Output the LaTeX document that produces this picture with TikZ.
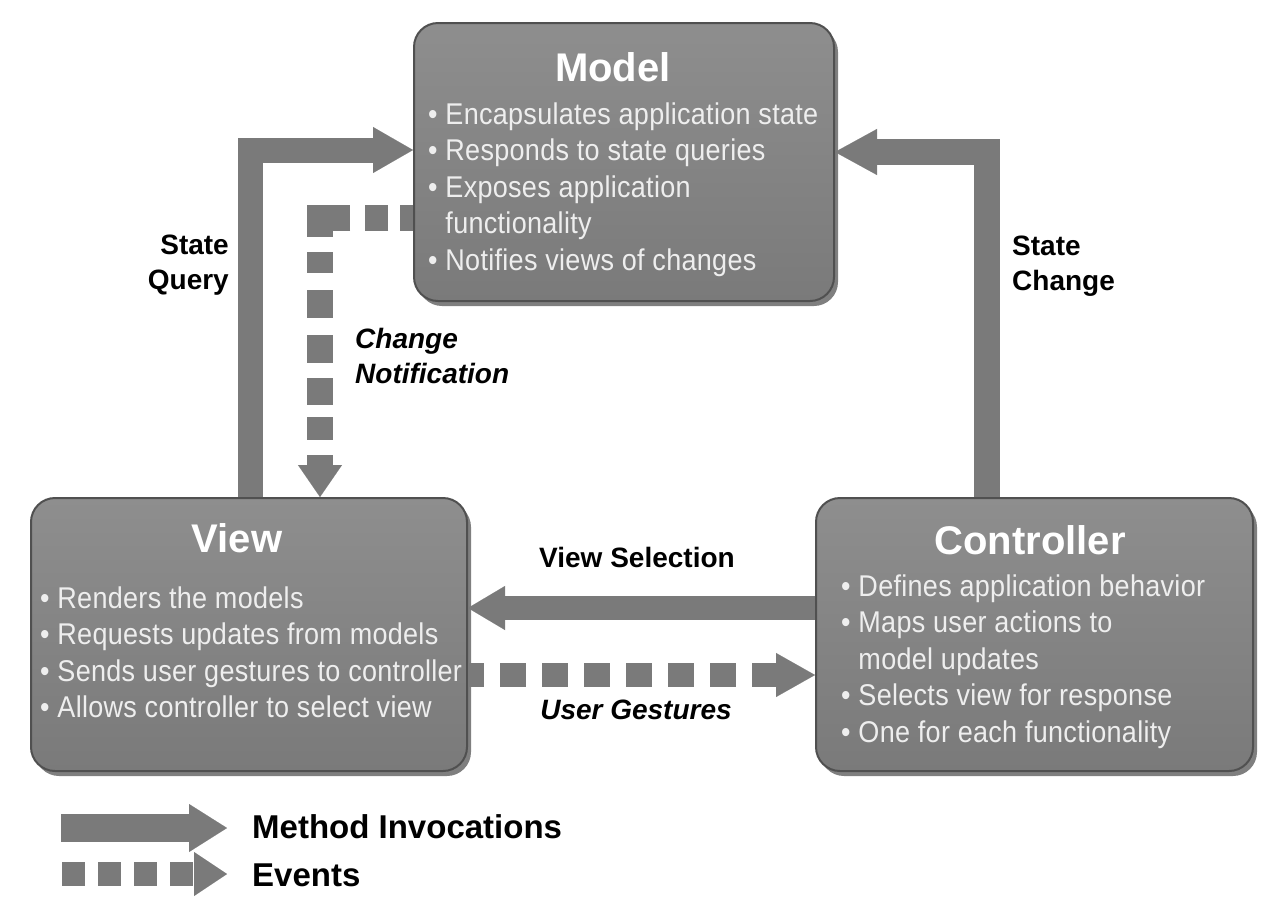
\documentclass[tikz,border=0pt]{standalone}
\usepackage{fontspec}
\setmainfont{Liberation Sans}
\newfontfamily\narrowfont[FakeStretch=0.9,LetterSpace=1]{Liberation Sans}
\usetikzlibrary{arrows.meta,shadows,calc}
\definecolor{boxtop}{HTML}{8E8E8E}
\definecolor{boxbot}{HTML}{7A7A7A}
\definecolor{boxedge}{HTML}{505050}
\definecolor{arrowgray}{HTML}{7A7A7A}
\definecolor{boxtext}{HTML}{EEEEEE}
\begin{document}
\begin{tikzpicture}[x=1pt,y=-1pt,
  box/.style={draw=boxedge,line width=2pt,rounded corners=24pt,top color=boxtop,bottom color=boxbot,
    drop shadow={shadow xshift=4pt,shadow yshift=-5pt,opacity=0.5,fill=black},
    inner sep=0pt,anchor=north west},
  boxtitle/.style={font=\bfseries\fontsize{40}{48}\selectfont,text=white,inner sep=0pt},
  boxlist/.style={font=\narrowfont\fontsize{30}{36.5}\selectfont,text=boxtext,align=left,anchor=north west,inner sep=0pt},
  lbl/.style={font=\bfseries\fontsize{28}{35}\selectfont,text=black,inner sep=0pt},
  ilbl/.style={font=\bfseries\itshape\fontsize{28}{35}\selectfont,text=black,inner sep=0pt},
  legendlbl/.style={font=\bfseries\fontsize{33}{39}\selectfont,text=black,inner sep=0pt,anchor=west},
  method/.style={draw=arrowgray,line width=25pt,line join=miter,line cap=butt},
  event/.style={method,line width=24pt}
]
\useasboundingbox[fill=white] (0,0) rectangle (1280,903);

% boxes
\node[box,minimum width=420pt,minimum height=278pt] (model) at (413,22) {};
\node[box,minimum width=436pt,minimum height=273pt] (view) at (30,497) {};
\node[box,minimum width=437pt,minimum height=273pt] (controller) at (815,497) {};

\node[boxtitle] (modeltitle) at (613,67) {Model};
\node[boxlist] (modellist) at (428,102) {\rule{0pt}{22pt}• Encapsulates application state\\• Responds to state queries\\• Exposes application\\\phantom{• }functionality\\• Notifies views of changes};

\node[boxtitle] (viewtitle) at (237,538) {View};
\node[boxlist] (viewlist) at (40,586) {\rule{0pt}{22pt}• Renders the models\\• Requests updates from models\\• Sends user gestures to controller\\• Allows controller to select view};

\node[boxtitle] (ctrltitle) at (1030,540) {Controller};
\node[boxlist] (ctrllist) at (841,574) {\rule{0pt}{22pt}• Defines application behavior\\• Maps user actions to\\\phantom{• }model updates\\• Selects view for response\\• One for each functionality};

% connectors
\draw[method,-{Triangle[length=40pt,width=46pt,line width=0.1pt]}]
  ($(view.north west)+(220,0)$) |- ($(model.north west)+(0,128)$);
\draw[method,line width=26pt,-{Triangle[length=42pt,width=46pt,line width=0.1pt]}]
  ($(controller.north west)+(172,0)$) |- ($(model.north east)+(0,130)$);
\draw[event,line width=26pt,dash pattern=on 13pt off 12pt on 23pt off 15pt on 49pt off 15pt on 21pt off 17pt on 28pt off 17pt on 28pt off 15pt on 27pt off 12pt on 23pt off 15pt on 30pt off 10pt,
  -{Triangle[length=32pt,width=44pt,line width=0.1pt]}]
  ($(model.north west)+(0,196)$) -| ($(view.north west)+(290,0)$);
\draw[method,line width=24pt,-{Triangle[length=37pt,width=44pt,line width=0.1pt]}]
  ($(controller.north west)+(0,111)$) -- ($(view.north east)+(0,111)$);
\draw[event,dash pattern=on 26pt off 16pt,dash phase=10pt,-{Triangle[length=39pt,width=44pt,line width=0.1pt]}]
  ($(view.north east)+(0,178)$) -- ($(controller.north west)+(0,178)$);

% labels
\node[lbl,align=right,anchor=east] (sq) at (229,265) {State\\Query};
\node[lbl,align=left,anchor=west] (sc) at (1012,266) {State\\Change};
\node[ilbl,align=left,anchor=west] (cn) at (355,356) {Change\\Notification};
\node[lbl] (vs) at (637,557) {View Selection};
\node[ilbl] (ug) at (636,710) {User Gestures};

% legend
\coordinate (mA) at (61,828);
\coordinate (mB) at (227,828);
\draw[method,line width=28pt,-{Triangle[length=38pt,width=48pt,line width=0.1pt]}] (mA) -- (mB);
\coordinate (eA) at (62,874);
\coordinate (eB) at (227,874);
\draw[event,dash pattern=on 23pt off 13pt,-{Triangle[length=33pt,width=44pt,line width=0.1pt]}] (eA) -- (eB);
\node[legendlbl] (mi) at (252,827) {Method Invocations};
\node[legendlbl] (ev) at (252,875) {Events};
\end{tikzpicture}
\end{document}
